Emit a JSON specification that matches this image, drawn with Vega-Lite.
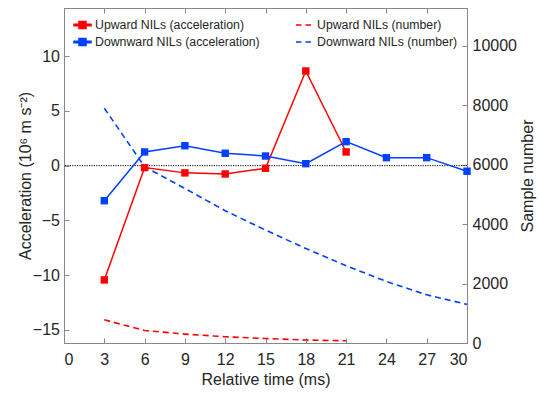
{
  "$schema": "https://vega.github.io/schema/vega-lite/v6.json",
  "width": 403,
  "height": 335,
  "autosize": "none",
  "padding": {"left": 64, "top": 8, "right": 73, "bottom": 50},
  "background": "white",
  "config": {
    "font": "Liberation Sans",
    "view": {"stroke": "#888888", "strokeWidth": 1},
    "axis": {
      "grid": false,
      "domainColor": "#888888",
      "tickColor": "#888888",
      "labelColor": "#262626",
      "titleColor": "#262626",
      "labelFont": "Liberation Sans",
      "titleFont": "Liberation Sans",
      "labelFontSize": 16,
      "titleFontSize": 16,
      "titleFontWeight": "normal",
      "tickSize": -5
    },
    "legend": {
      "labelFont": "Liberation Sans",
      "labelFontSize": 12.3,
      "labelColor": "#262626",
      "labelLimit": 300,
      "padding": 0,
      "clipHeight": 17,
      "rowPadding": 0
    }
  },
  "datasets": {
    "acceleration": [
      {"series": "Upward NILs (acceleration)", "t": 3, "acc": -10.44},
      {"series": "Upward NILs (acceleration)", "t": 6, "acc": -0.18},
      {"series": "Upward NILs (acceleration)", "t": 9, "acc": -0.66},
      {"series": "Upward NILs (acceleration)", "t": 12, "acc": -0.76},
      {"series": "Upward NILs (acceleration)", "t": 15, "acc": -0.24},
      {"series": "Upward NILs (acceleration)", "t": 18, "acc": 8.65},
      {"series": "Upward NILs (acceleration)", "t": 21, "acc": 1.25},
      {"series": "Downward NILs (acceleration)", "t": 3, "acc": -3.2},
      {"series": "Downward NILs (acceleration)", "t": 6, "acc": 1.25},
      {"series": "Downward NILs (acceleration)", "t": 9, "acc": 1.82},
      {"series": "Downward NILs (acceleration)", "t": 12, "acc": 1.13},
      {"series": "Downward NILs (acceleration)", "t": 15, "acc": 0.88},
      {"series": "Downward NILs (acceleration)", "t": 18, "acc": 0.18},
      {"series": "Downward NILs (acceleration)", "t": 21, "acc": 2.19},
      {"series": "Downward NILs (acceleration)", "t": 24, "acc": 0.73},
      {"series": "Downward NILs (acceleration)", "t": 27, "acc": 0.73},
      {"series": "Downward NILs (acceleration)", "t": 30, "acc": -0.51}
    ],
    "samples": [
      {"series": "Upward NILs (number)", "t": 3, "n": 780},
      {"series": "Upward NILs (number)", "t": 6, "n": 420},
      {"series": "Upward NILs (number)", "t": 9, "n": 300},
      {"series": "Upward NILs (number)", "t": 12, "n": 210},
      {"series": "Upward NILs (number)", "t": 15, "n": 150},
      {"series": "Upward NILs (number)", "t": 18, "n": 100},
      {"series": "Upward NILs (number)", "t": 21, "n": 75},
      {"series": "Downward NILs (number)", "t": 3, "n": 7900},
      {"series": "Downward NILs (number)", "t": 6, "n": 5930},
      {"series": "Downward NILs (number)", "t": 9, "n": 5200},
      {"series": "Downward NILs (number)", "t": 12, "n": 4450},
      {"series": "Downward NILs (number)", "t": 15, "n": 3800},
      {"series": "Downward NILs (number)", "t": 18, "n": 3180},
      {"series": "Downward NILs (number)", "t": 21, "n": 2600},
      {"series": "Downward NILs (number)", "t": 24, "n": 2070},
      {"series": "Downward NILs (number)", "t": 27, "n": 1620},
      {"series": "Downward NILs (number)", "t": 30, "n": 1300}
    ]
  },
  "layer": [
    {
      "data": {"name": "samples"},
      "mark": {"type": "line", "strokeWidth": 1.6, "strokeDash": [6, 4]},
      "encoding": {
        "x": {
          "field": "t",
          "type": "quantitative",
          "scale": {"domain": [0, 30], "nice": false, "zero": false},
          "axis": {
            "orient": "top",
            "values": [0, 3, 6, 9, 12, 15, 18, 21, 24, 27, 30],
            "labels": false,
            "title": null
          }
        },
        "y": {
          "field": "n",
          "type": "quantitative",
          "scale": {"domain": [0, 11270], "nice": false, "zero": false},
          "axis": {
            "orient": "right",
            "values": [0, 2000, 4000, 6000, 8000, 10000],
            "format": "d",
            "labelPadding": 10,
            "title": "Sample number",
            "titleAngle": 270,
            "titleBaseline": "top",
            "titlePadding": 3
          }
        },
        "color": {
          "field": "series",
          "type": "nominal",
          "scale": {
            "domain": ["Upward NILs (number)", "Downward NILs (number)"],
            "range": ["#ff0000", "#0040ff"]
          },
          "legend": {
            "orient": "none",
            "legendX": 231,
            "legendY": 8.5,
            "title": null,
            "symbolType": "stroke",
            "symbolSize": 225,
            "symbolStrokeWidth": 1.6,
            "symbolDash": [5.5, 4],
            "labelOffset": 5
          }
        }
      }
    },
    {
      "layer": [
        {
          "data": {"values": [{}]},
          "mark": {"type": "rule", "color": "#000000", "strokeWidth": 1, "strokeDash": [1.2, 1.2]},
          "encoding": {
            "y": {
              "datum": 0,
              "type": "quantitative",
              "axis": {
                "orient": "left",
                "values": [-15, -10, -5, 0, 5, 10],
                "labelPadding": 9.5,
                "title": "Acceleration (10⁶ m s⁻²)",
                "titlePadding": -1
              }
            }
          }
        },
        {
          "data": {"name": "acceleration"},
          "mark": {
            "type": "line",
            "strokeWidth": 1.5,
            "point": {"shape": "square", "filled": true, "size": 55, "opacity": 1}
          },
          "encoding": {
            "x": {
              "field": "t",
              "type": "quantitative",
              "scale": {"domain": [0, 30], "nice": false, "zero": false},
              "axis": {
                "orient": "bottom",
                "values": [0, 3, 6, 9, 12, 15, 18, 21, 24, 27, 30],
                "labelPadding": 13,
                "title": "Relative time (ms)",
                "titlePadding": 4
              }
            },
            "y": {
              "field": "acc",
              "type": "quantitative",
              "scale": {"domain": [-16.2, 14.4], "nice": false, "zero": false},
              "axis": {
                "orient": "left",
                "values": [-15, -10, -5, 0, 5, 10],
                "labelPadding": 9.5,
                "title": "Acceleration (10⁶ m s⁻²)",
                "titlePadding": -1
              }
            },
            "color": {
              "field": "series",
              "type": "nominal",
              "scale": {
                "domain": ["Upward NILs (acceleration)", "Downward NILs (acceleration)"],
                "range": ["#ff0000", "#0040ff"]
              },
              "legend": {
                "orient": "none",
                "legendX": 9,
                "legendY": 8.5,
                "title": null,
                "symbolType": "M-1,-0.09H1V0.09H-1Z M-0.41,-0.41H0.41V0.41H-0.41Z",
                "symbolSize": 289,
                "labelOffset": 3,
                "encode": {
                  "symbols": {
                    "update": {
                      "fill": {"signal": "datum.value === 'Upward NILs (acceleration)' ? '#ff0000' : '#0040ff'"},
                      "stroke": {"value": "transparent"},
                      "opacity": {"value": 1}
                    }
                  }
                }
              }
            }
          }
        }
      ]
    }
  ],
  "resolve": {
    "scale": {"y": "independent", "color": "independent"},
    "axis": {"x": "independent"}
  }
}
